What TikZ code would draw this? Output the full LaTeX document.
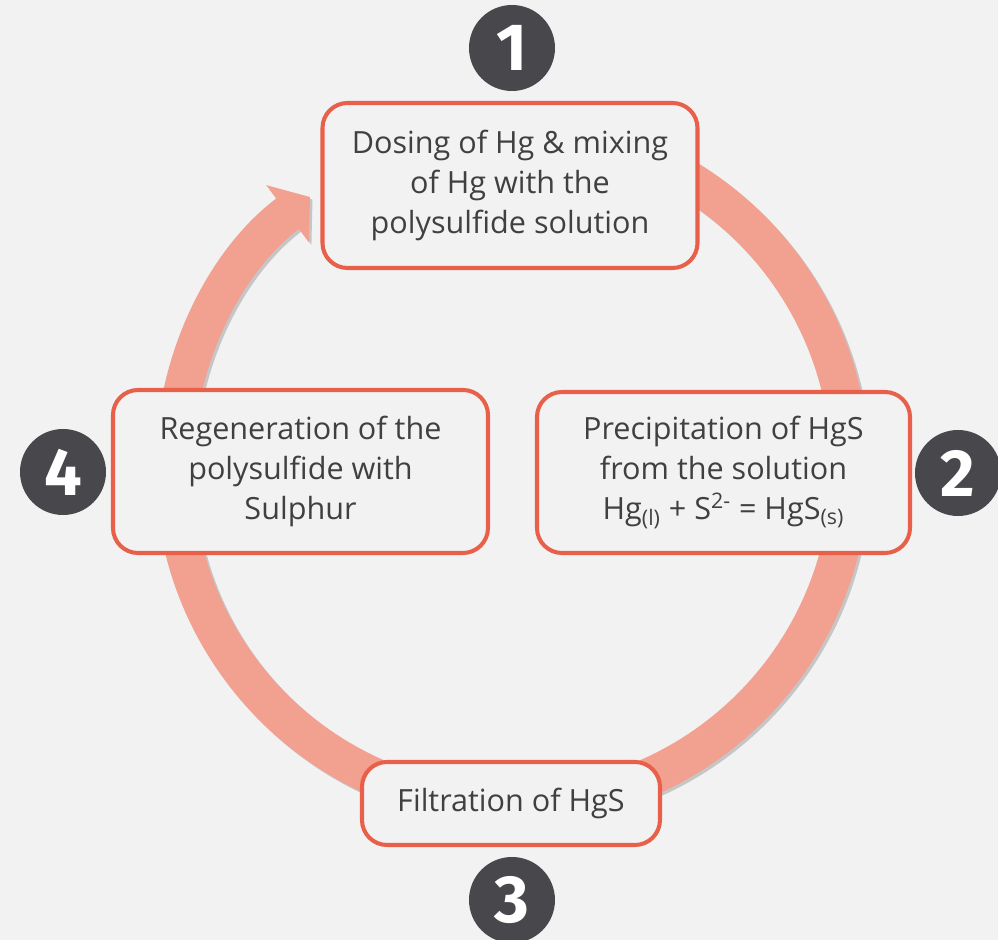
\documentclass[tikz,border=0pt]{standalone}
\usepackage{fontspec}
\setmainfont{Open Sans}
\newfontfamily\badgefont{Fira Sans}
\usetikzlibrary{arrows.meta}

\definecolor{bgray}{HTML}{F2F2F2}
\definecolor{ringred}{HTML}{F2A08F}
\definecolor{edgered}{HTML}{E8604A}
\definecolor{txtgray}{HTML}{404040}
\definecolor{dotgray}{HTML}{48484C}

\begin{document}
\begin{tikzpicture}[
    stage/.style ={draw=edgered, line width=2.3pt, fill=bgray, rounded corners=0.5cm,
                   align=center, text=txtgray, inner sep=0pt,
                   font=\fontsize{17.4}{22.6}\selectfont},
    badge/.style ={circle, fill=dotgray, text=white, inner sep=0pt, minimum size=1.72cm,
                   font=\badgefont\bfseries\fontsize{38}{38}\selectfont}]
   \useasboundingbox (-10.24,-9.44) rectangle (9.72,9.36);
   \fill[bgray] (-10.24,-9.44) rectangle (9.72,9.36);

   % ring with arrow into stage 1
   \draw[gray!45, line width=0.76cm, -{Triangle[width=1.4cm, length=0.56cm]}]
        ([shift={(0.05,-0.05)}]90:6.76) arc[start angle=90, end angle=-233.3, radius=6.76];
   \draw[ringred, line width=0.76cm, -{Triangle[width=1.4cm, length=0.56cm]}]
        (90:6.76) arc[start angle=90, end angle=-233.3, radius=6.76];

   \node[stage, minimum width=7.5cm, minimum height=3.3cm] (dose) at (-0.04,5.65)
        {Dosing of Hg \& mixing\\of Hg with the\\polysulfide solution};
   \node[stage, minimum width=7.46cm, minimum height=3.22cm] (prec) at (4.23,-0.09)
        {Precipitation of HgS\\from the solution\\Hg\textsubscript{(l)} + S\textsuperscript{2-} = HgS\textsubscript{(s)}};
   \node[stage, minimum width=5.96cm, minimum height=1.66cm] (filt) at (-0.02,-6.71)
        {Filtration of HgS};
   \node[stage, minimum width=7.5cm, minimum height=3.26cm] (regen) at (-4.23,-0.07)
        {Regeneration of the\\polysulfide with\\Sulphur};

   \node[badge] (n1) at (0,8.4) {1};
   \node[badge] (n2) at (8.92,-0.1) {2};
   \node[badge] (n3) at (0,-8.64) {3};
   \node[badge] (n4) at (-8.98,-0.08) {4};
\end{tikzpicture}
\end{document}
